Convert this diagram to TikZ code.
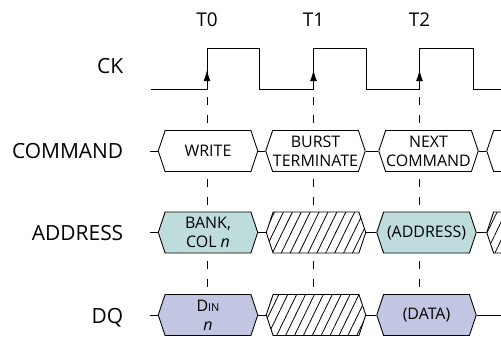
\documentclass[tikz,border=0pt]{standalone}
\usepackage{fontspec}
\setmainfont{Open Sans}
\usetikzlibrary{shapes.symbols, patterns.meta, arrows.meta}

\definecolor{addrfill}{RGB}{190,220,219}
\definecolor{datafill}{RGB}{194,198,226}

\begin{document}
\begin{tikzpicture}[x=1bp, y=-1bp, line width=0.9bp,
    bus/.style={draw, signal, signal to=east and west, signal pointer angle=143,
        minimum width=99.5bp, minimum height=41bp, inner sep=0pt, align=center,
        font=\fontsize{16}{19}\selectfont},
    addrbus/.style={bus, fill=addrfill},
    databus/.style={bus, fill=datafill},
    dontcare/.style={bus, pattern={Lines[angle=64, distance=8bp, line width=0.8bp]}},
    guide/.style={dash pattern=on 8bp off 10bp, line width=0.8bp},
    rowlabel/.style={anchor=base east, font=\fontsize{21}{25}\selectfont},
    ticklabel/.style={anchor=base, font=\fontsize{19}{23}\selectfont}]

    \useasboundingbox (0,0) rectangle (501,337);
    \clip (0,0) rectangle (501,337);

    % clock edge labels
    \node[ticklabel] at (207, 26) (t0) {T0};
    \node[ticklabel] at (313.5, 26) (t1) {T1};
    \node[ticklabel] at (419.5, 26) (t2) {T2};

    % signal names
    \node[rowlabel] at (127, 73.5) (ck) {CK};
    \node[rowlabel] at (127, 158.3) (cmd) {COMMAND};
    \node[rowlabel] at (127, 240.7) (addr) {ADDRESS};
    \node[rowlabel] at (127, 323.3) (dq) {DQ};

    % clock
    \draw (150.7, 89.3) -- (207, 89.3) -- (207, 48.3) -- (259.5, 48.3) -- (259.5, 89.3)
        -- (313.5, 89.3) -- (313.5, 48.3) -- (366, 48.3) -- (366, 89.3)
        -- (419.5, 89.3) -- (419.5, 48.3) -- (473.5, 48.3) -- (473.5, 89.3) -- (501, 89.3);
    \foreach \x/\n in {207/0, 313.5/1, 419.5/2} {
        \draw[-{Latex[length=11bp, width=7bp]}] (\x, 89.3) -- (\x, 70);
        \coordinate (edge\n) at (\x, 97);
    }

    % COMMAND
    \coordinate (cmdstart) at (150, 151);
    \node[bus] at (208, 151) (write) {WRITE};
    \node[bus] at (315.5, 151) (burst) {BURST\\TERMINATE};
    \node[bus] at (428.5, 151) (next) {NEXT\\COMMAND};
    \node[bus] at (536.5, 151) (cmdmore) {};
    \draw (cmdstart) -- (write.west);
    \draw (write.east) -- (burst.west);
    \draw (burst.east) -- (next.west);
    \draw (next.east) -- (cmdmore.west);

    % ADDRESS
    \coordinate (addrstart) at (150, 232.5);
    \node[addrbus] at (208, 232.5) (bank) {BANK,\\COL \textit{n}};
    \node[dontcare] at (316, 232.5) (addrx) {};
    \node[addrbus] at (426.5, 232.5) (nextaddr) {(ADDRESS)};
    \node[dontcare] at (536.5, 232.5) (addrmore) {};
    \draw (addrstart) -- (bank.west);
    \draw (bank.east) -- (addrx.west);
    \draw (addrx.east) -- (nextaddr.west);
    \draw (nextaddr.east) -- (addrmore.west);

    % DQ
    \coordinate (dqstart) at (150, 315);
    \coordinate (dqend) at (501, 315);
    \node[databus] at (208, 315) (din) {D{\fontsize{11}{11}\selectfont IN}\\\textit{n}};
    \node[dontcare] at (316, 315) (dqx) {};
    \node[databus] at (426.5, 315) (nextdata) {(DATA)};
    \draw (dqstart) -- (din.west);
    \draw (din.east) -- (dqx.west);
    \draw (dqx.east) -- (nextdata.west);
    \draw (nextdata.east) -- (dqend);

    % guides from the rising edges
    \draw[guide] (edge0) -- (edge0 |- write.north);
    \draw[guide] (edge1) -- (edge1 |- burst.north);
    \draw[guide] (edge2) -- (edge2 |- next.north);
    \draw[guide] ([yshift=-7bp] edge0 |- write.south) -- (edge0 |- bank.north);
    \draw[guide] ([yshift=-7bp] edge1 |- burst.south) -- (edge1 |- addrx.north);
    \draw[guide] ([yshift=-7bp] edge2 |- next.south) -- (edge2 |- nextaddr.north);
    \draw[guide] ([yshift=-8bp] edge0 |- bank.south) -- (edge0 |- din.north);
    \draw[guide] ([yshift=-8bp] edge1 |- addrx.south) -- (edge1 |- dqx.north);
    \draw[guide] ([yshift=-8bp] edge2 |- nextaddr.south) -- (edge2 |- nextdata.north);
\end{tikzpicture}
\end{document}
